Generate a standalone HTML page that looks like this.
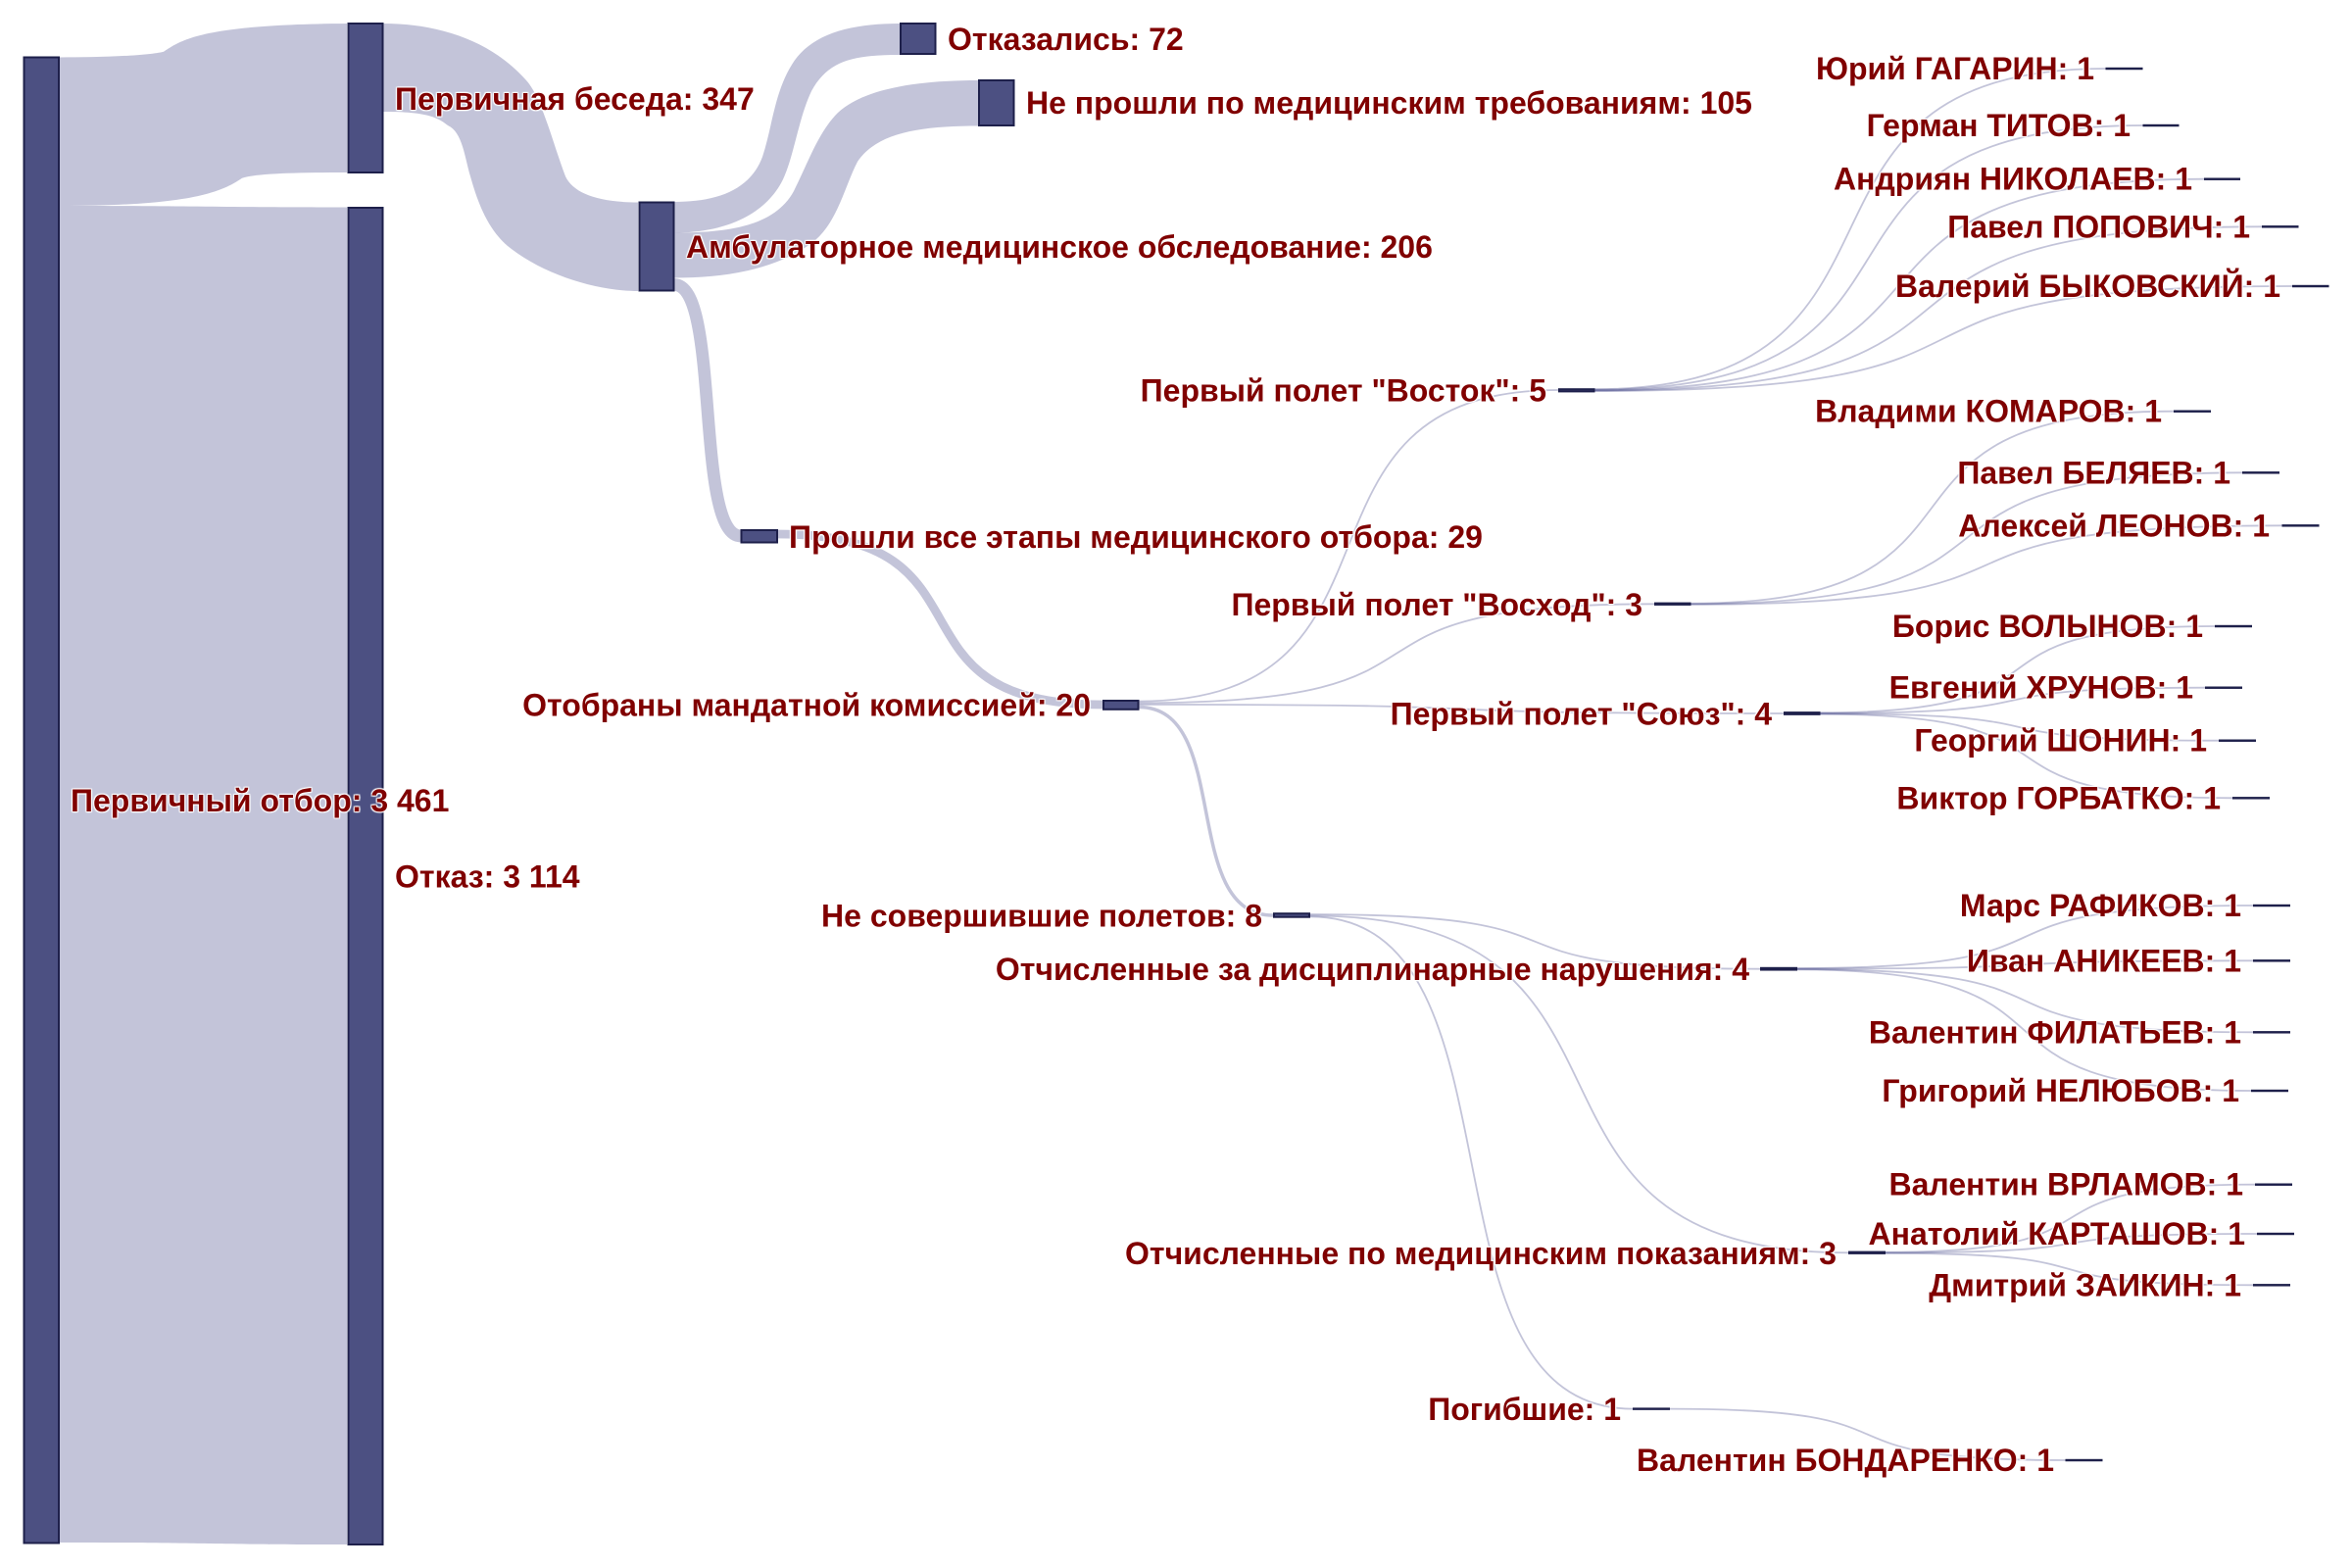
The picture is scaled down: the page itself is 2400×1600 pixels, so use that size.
<!DOCTYPE html>
<html><head><meta charset="utf-8"><style>
html,body{margin:0;padding:0;background:#fff}
svg{display:block}
text{font-family:"Liberation Sans",sans-serif;font-weight:bold;font-size:32px;fill:#800000;text-shadow:1px 1px 1px #fff,-1px -1px 1px #fff,1px -1px 1px #fff,-1px 1px 1px #fff}
.l{fill:rgba(55,60,130,.3);stroke:none}
.s{fill:none;stroke:rgba(55,60,130,.3)}
.f{fill:none;stroke:rgba(55,60,130,.3);stroke-width:1.8}
.n{fill:#4c5082;stroke:#1e204b;stroke-width:2}
.e{text-anchor:end}
</style></head><body>
<svg width="2400" height="1600" viewBox="0 0 2400 1600" xmlns="http://www.w3.org/2000/svg">
<rect width="2400" height="1600" fill="#fff"/>
<path class="l" d="M61,58.5 C100,58.5 150,57 167,52.7 C185,41 205,25 354,24 L354,176 C300,176 262,177 247,181.7 C225,197 190,210 61,210 Z"/>
<path class="l" d="M61,210 C200,210 220,211.5 354,211.5 L354,1576 C200,1576 210,1574 61,1574 Z"/>
<path class="l" d="M391,24 C445,24 500,40 537,82 C553,100 562,140 577,180 C585,197 610,206.5 651,206.5 L651,297 C610,297 555,281 518,251 C497,233 487,205 480,180 C474,160 472,135 457,128 C445,118 430,114 391,114 Z"/>
<path class="l" d="M688,206 C730,206 765,195 778,160 C788,130 790,95 808,66 C825,38 860,24 918,24 L918,56 C870,56 845,62 828,93 C815,120 810,160 799,183 C780,222 735,237.5 688,237.5 Z"/>
<path class="l" d="M688,237.5 C740,237.5 790,232 810,195 C825,165 835,135 855,115 C880,92 930,82 998,82 L998,128.5 C940,128.5 895,135 875,165 C862,190 855,225 832,245 C795,275 740,283.5 688,283.5 Z"/>
<path class="s" stroke-width="12.7" d="M688,290.5 C735.6,290.5 708.4,547 756,547"/>
<path class="s" stroke-width="8.8" d="M794,545 C1026,545 893,719 1125,719"/>
<path class="f" d="M1162,715.6 C1461.6,715.6 1290.4,398 1590,398"/>
<path class="f" d="M1162,717.3 C1530,717.3 1320,616.3 1688,616.3"/>
<path class="f" d="M1162,718.9 C1623,718.9 1359,728 1820,728"/>
<path class="s" stroke-width="3.5" d="M1162,721.5 C1258,721.5 1203,934 1299,934"/>
<path class="f" d="M1337,933 C1658,933 1475,988.7 1796,988.7"/>
<path class="f" d="M1337,934.4 C1721,934.4 1502,1278.3 1886,1278.3"/>
<path class="f" d="M1337,935.3 C1567,935.3 1436,1437.6 1666,1437.6"/>
<path class="f" d="M1627,397.2 C1992,397.2 1784,70 2149,70"/>
<path class="f" d="M1627,397.7 C2019,397.7 1795,128 2186.6,128"/>
<path class="f" d="M1627,398.2 C2062,398.2 1814,182.7 2249,182.7"/>
<path class="f" d="M1627,398.6 C2104,398.6 1831,231.3 2308,231.3"/>
<path class="f" d="M1627,399 C2125,399 1841,292 2339,292"/>
<path class="f" d="M1725,615.8 C2070,615.8 1873,419.7 2218,419.7"/>
<path class="f" d="M1725,616.3 C2119,616.3 1894,482.3 2288,482.3"/>
<path class="f" d="M1725,616.8 C2147.5,616.8 1906,536.3 2328.6,536.3"/>
<path class="f" d="M1857,727.3 C2139,727.3 1978,639 2260,639"/>
<path class="f" d="M1857,727.8 C2132,727.8 1975,701.7 2250,701.7"/>
<path class="f" d="M1857,728.2 C2142,728.2 1979,755.7 2264,755.7"/>
<path class="f" d="M1857,728.7 C2152,728.7 1983,814.3 2278,814.3"/>
<path class="f" d="M1834,988 C2159.5,988 1973.5,924 2299,924"/>
<path class="f" d="M1834,988.5 C2159.5,988.5 1973.5,980.3 2299,980.3"/>
<path class="f" d="M1834,989 C2159.5,989 1973.5,1053.3 2299,1053.3"/>
<path class="f" d="M1834,989.4 C2158,989.4 1973,1113 2297,1113"/>
<path class="f" d="M1924,1277.8 C2188,1277.8 2037,1208.7 2301,1208.7"/>
<path class="f" d="M1924,1278.3 C2189,1278.3 2038,1259 2303,1259"/>
<path class="f" d="M1924,1278.8 C2186.5,1278.8 2036.5,1311.3 2299,1311.3"/>
<path class="f" d="M1704,1437.6 C1987,1437.6 1825,1490 2108,1490"/>

<rect class="n" x="24.5" y="58.5" width="35.5" height="1516"/>
<rect class="n" x="355.5" y="24" width="35" height="152"/>
<rect class="n" x="355.5" y="212" width="35" height="1364"/>
<rect class="n" x="652.5" y="206.5" width="35" height="90"/>
<rect class="n" x="919" y="24" width="35.5" height="31"/>
<rect class="n" x="999" y="82" width="35.5" height="46"/>
<rect class="n" x="756.5" y="541" width="36.5" height="12.5"/>
<rect class="n" x="1126" y="715" width="35.5" height="8.8"/>
<rect class="n" x="1591" y="397.2" width="35.5" height="2.2"/>
<rect class="n" x="1689" y="615.6" width="35.5" height="1.3"/>
<rect class="n" x="1821" y="727.1" width="35.5" height="1.75"/>
<rect class="n" x="1300" y="932.2" width="36" height="3.5"/>
<rect class="n" x="1797" y="987.8" width="36" height="1.75"/>
<rect class="n" x="1887" y="1277.6" width="36" height="1.3"/>
<rect class="n" x="1667" y="1437.4" width="36" height=".44"/>
<rect class="n" x="2149.5" y="69.8" width="36" height=".44"/>
<rect class="n" x="2187.5" y="127.8" width="35" height=".44"/>
<rect class="n" x="2250" y="182.5" width="35" height=".44"/>
<rect class="n" x="2309" y="231.1" width="35.5" height=".44"/>
<rect class="n" x="2340" y="291.8" width="35.5" height=".44"/>
<rect class="n" x="2219" y="419.5" width="36" height=".44"/>
<rect class="n" x="2289" y="482.1" width="36" height=".44"/>
<rect class="n" x="2329.5" y="536.1" width="36" height=".44"/>
<rect class="n" x="2261" y="638.8" width="36" height=".44"/>
<rect class="n" x="2251" y="701.5" width="36" height=".44"/>
<rect class="n" x="2265" y="755.5" width="36" height=".44"/>
<rect class="n" x="2279" y="814.1" width="36" height=".44"/>
<rect class="n" x="2300" y="923.8" width="36" height=".44"/>
<rect class="n" x="2300" y="980.1" width="36" height=".44"/>
<rect class="n" x="2300" y="1053.1" width="36" height=".44"/>
<rect class="n" x="2298" y="1112.8" width="36" height=".44"/>
<rect class="n" x="2302" y="1208.5" width="36" height=".44"/>
<rect class="n" x="2304" y="1258.8" width="36" height=".44"/>
<rect class="n" x="2300" y="1311.1" width="36" height=".44"/>
<rect class="n" x="2108.5" y="1489.8" width="36" height=".44"/>

<text x="72" y="828">Первичный отбор: 3 461</text>
<text x="403" y="112">Первичная беседа: 347</text>
<text x="403" y="905.5">Отказ: 3 114</text>
<text x="700" y="263">Амбулаторное медицинское обследование: 206</text>
<text x="967" y="51">Отказались: 72</text>
<text x="1047" y="116">Не прошли по медицинским требованиям: 105</text>
<text x="805" y="559">Прошли все этапы медицинского отбора: 29</text>
<text class="e" x="1113" y="730.5">Отобраны мандатной комиссией: 20</text>
<text class="e" x="1578" y="409.5">Первый полет "Восток": 5</text>
<text class="e" x="1676" y="628">Первый полет "Восход": 3</text>
<text class="e" x="1808" y="739.5">Первый полет "Союз": 4</text>
<text class="e" x="1288" y="945.5">Не совершившие полетов: 8</text>
<text class="e" x="1785" y="1000">Отчисленные за дисциплинарные нарушения: 4</text>
<text class="e" x="1874" y="1290">Отчисленные по медицинским показаниям: 3</text>
<text class="e" x="1654" y="1449">Погибшие: 1</text>
<text class="e" x="2137" y="81">Юрий ГАГАРИН: 1</text>
<text class="e" x="2174" y="139">Герман ТИТОВ: 1</text>
<text class="e" x="2237" y="193.5">Андриян НИКОЛАЕВ: 1</text>
<text class="e" x="2296" y="242.5">Павел ПОПОВИЧ: 1</text>
<text class="e" x="2327" y="303">Валерий БЫКОВСКИЙ: 1</text>
<text class="e" x="2206" y="430.5">Владими КОМАРОВ: 1</text>
<text class="e" x="2276" y="493.5">Павел БЕЛЯЕВ: 1</text>
<text class="e" x="2316" y="547.5">Алексей ЛЕОНОВ: 1</text>
<text class="e" x="2248" y="650">Борис ВОЛЫНОВ: 1</text>
<text class="e" x="2238" y="712.5">Евгений ХРУНОВ: 1</text>
<text class="e" x="2252" y="766.5">Георгий ШОНИН: 1</text>
<text class="e" x="2266" y="825.5">Виктор ГОРБАТКО: 1</text>
<text class="e" x="2287" y="935">Марс РАФИКОВ: 1</text>
<text class="e" x="2287" y="991.5">Иван АНИКЕЕВ: 1</text>
<text class="e" x="2287" y="1064.5">Валентин ФИЛАТЬЕВ: 1</text>
<text class="e" x="2285" y="1124">Григорий НЕЛЮБОВ: 1</text>
<text class="e" x="2289" y="1219.5">Валентин ВРЛАМОВ: 1</text>
<text class="e" x="2291" y="1270">Анатолий КАРТАШОВ: 1</text>
<text class="e" x="2287" y="1322.5">Дмитрий ЗАИКИН: 1</text>
<text class="e" x="2096" y="1501">Валентин БОНДАРЕНКО: 1</text>
</svg>
</body></html>
